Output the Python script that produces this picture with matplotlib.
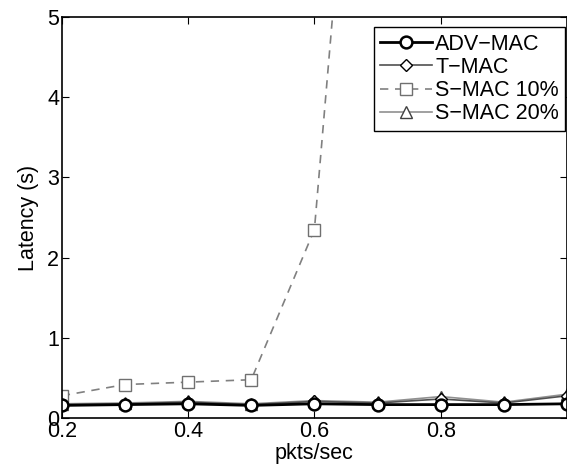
import matplotlib.pyplot as plt

# rates (pkts/sec)
rate = [0.2, 0.3, 0.4, 0.5, 0.6, 0.7, 0.8, 0.9, 1.0]
# latency in seconds
adv_mac = [0.16, 0.17, 0.18, 0.16, 0.18, 0.17, 0.17, 0.17, 0.18]
t_mac = [0.17, 0.18, 0.20, 0.17, 0.21, 0.19, 0.24, 0.19, 0.28]
s_mac10 = [0.28, 0.42, 0.45, 0.48, 2.35, 11.6, 14.0, 16.0, 18.0]
s_mac20 = [0.18, 0.19, 0.21, 0.18, 0.22, 0.20, 0.27, 0.20, 0.30]

plt.rcParams['font.family'] = ['Liberation Sans', 'DejaVu Sans']
plt.rcParams['font.size'] = 15.5

fig = plt.figure(figsize=(5.67, 4.71), dpi=100)
ax = fig.add_axes([0.109, 0.112, 0.891, 0.852])

ax.plot(rate, s_mac10, '--s', color='#808080', lw=1.2, ms=8, mfc='white', mec='#707070',
        dashes=(5, 4), label='S\u2212MAC 10%')
ax.plot(rate, s_mac20, '-^', color='#909090', lw=1.2, ms=8, mfc='white', mec='#404040', label='S\u2212MAC 20%')
ax.plot(rate, t_mac, '-D', color='#505050', lw=1.2, ms=6.5, mfc='white', mec='black', label='T\u2212MAC')
ax.plot(rate, adv_mac, '-o', color='black', lw=2, ms=8.5, mfc='white', mec='black', mew=1.8, label='ADV\u2212MAC')

ax.set_xlim(0.2, 1.0)
ax.set_ylim(0, 5)
ax.set_xticks([0.2, 0.4, 0.6, 0.8])
ax.set_yticks([0, 1, 2, 3, 4, 5])
ax.tick_params(direction='in', top=True, right=True, length=5, pad=2)
for s in ax.spines.values():
    s.set_linewidth(1.2)
ax.set_xlabel('pkts/sec', labelpad=1)
ax.set_ylabel('Latency (s)', labelpad=6)

h, l = ax.get_legend_handles_labels()
order = [3, 2, 0, 1]
ax.legend([h[i] for i in order], [l[i] for i in order], loc='upper right',
          bbox_to_anchor=(1.005, 0.985), fancybox=False, edgecolor='black',
          framealpha=1, handlelength=2.4, handletextpad=0.15, labelspacing=0.1,
          borderpad=0.3, borderaxespad=0.2)

plt.savefig('out.png')
